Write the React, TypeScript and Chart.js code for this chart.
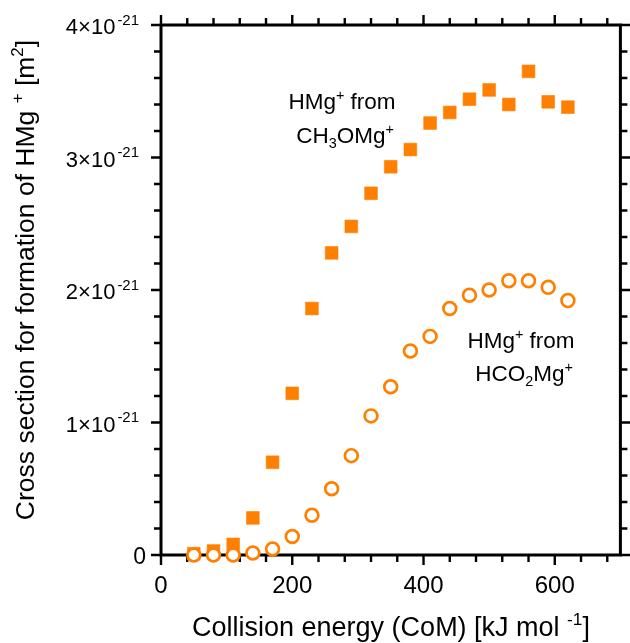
import React, { useEffect, useRef } from "react";
import { Chart, registerables } from "chart.js";

Chart.register(...registerables);

// Collision energy (CoM) [kJ mol-1]
const energies = [50, 80, 110, 140, 170, 200, 230, 260, 290, 320, 350, 380, 410, 440, 470, 500, 530, 560, 590, 620];
// Cross section [m^2] for HMg+ from CH3OMg+ (filled squares)
const fromCH3OMg = [
  0.01e-21, 0.03e-21, 0.08e-21, 0.28e-21, 0.7e-21, 1.22e-21, 1.86e-21, 2.28e-21, 2.48e-21, 2.73e-21,
  2.93e-21, 3.06e-21, 3.26e-21, 3.34e-21, 3.44e-21, 3.51e-21, 3.4e-21, 3.65e-21, 3.42e-21, 3.38e-21,
];
// Cross section [m^2] for HMg+ from HCO2Mg+ (open circles)
const fromHCO2Mg = [
  0, 0, 0, 0.015e-21, 0.045e-21, 0.14e-21, 0.3e-21, 0.5e-21, 0.75e-21, 1.05e-21,
  1.27e-21, 1.54e-21, 1.65e-21, 1.86e-21, 1.96e-21, 2.0e-21, 2.07e-21, 2.07e-21, 2.02e-21, 1.92e-21,
];

const xMin = 0;
const xMax = 700;
const xMajorTicks = [0, 200, 400, 600];
const xTickLabels = ["0", "200", "400", "600"];
const xMinorStep = 40;

const yMin = 0;
const yMax = 4e-21;
const yMajorTicks = [0, 1e-21, 2e-21, 3e-21, 4e-21];
const yTickMantissas = ["0", "1×10", "2×10", "3×10", "4×10"];
const yTickExponent = "-21";
const yMinorCount = 20; // minor ticks every 0.2e-21

const ORANGE = "#FF8000";
const FONT = '"Liberation Sans", Arial, sans-serif';

type Seg = { t: string; k: "n" | "sup" | "sub"; gap?: number };

function drawRich(
  ctx: CanvasRenderingContext2D,
  segs: Seg[],
  x: number,
  y: number,
  size: number,
  align: "left" | "center" | "right",
  subScale = 0.64
) {
  const parts = segs.map((s) => {
    const fs = s.k === "n" ? size : size * subScale;
    ctx.font = `${fs}px ${FONT}`;
    return { ...s, fs, w: ctx.measureText(s.t).width + (s.gap || 0) };
  });
  const total = parts.reduce((a, p) => a + p.w, 0);
  let cx = align === "center" ? x - total / 2 : align === "right" ? x - total : x;
  ctx.textAlign = "left";
  ctx.textBaseline = "alphabetic";
  for (const p of parts) {
    ctx.font = `${p.fs}px ${FONT}`;
    const dy = p.k === "sup" ? -size * 0.42 : p.k === "sub" ? size * 0.24 : 0;
    ctx.fillText(p.t, cx + (p.gap || 0), y + dy);
    cx += p.w;
  }
}

const framePlugin = {
  id: "frameAxes",
  beforeDatasetsDraw(chart: any) {
    const { ctx, chartArea } = chart;
    const xs = chart.scales.x;
    const ys = chart.scales.y;
    const { left, right, top, bottom } = chartArea;
    ctx.save();
    ctx.strokeStyle = "#000";
    ctx.lineCap = "butt";
    // ticks
    ctx.lineWidth = 2.4;
    const MAJ = 10;
    const MIN = 7;
    for (let v = xMin; v <= xMax; v += xMinorStep) {
      const px = xs.getPixelForValue(v);
      const len = xMajorTicks.includes(v) ? MAJ : MIN;
      ctx.beginPath();
      ctx.moveTo(px, bottom);
      ctx.lineTo(px, bottom + len);
      ctx.moveTo(px, top);
      ctx.lineTo(px, top - len);
      ctx.stroke();
    }
    for (let i = 0; i <= yMinorCount; i++) {
      const v = (i / yMinorCount) * yMax;
      const py = ys.getPixelForValue(v);
      const len = i % 5 === 0 ? MAJ : MIN;
      ctx.beginPath();
      ctx.moveTo(left, py);
      ctx.lineTo(left - len, py);
      ctx.moveTo(right, py);
      ctx.lineTo(right + len, py);
      ctx.stroke();
    }
    // frame
    ctx.lineWidth = 3;
    ctx.beginPath();
    ctx.rect(left, top, right - left, bottom - top);
    ctx.stroke();
    ctx.restore();
  },
  afterDraw(chart: any) {
    const { ctx } = chart;
    const xs = chart.scales.x;
    const ys = chart.scales.y;
    ctx.save();
    ctx.fillStyle = "#000";
    // x tick labels
    xMajorTicks.forEach((v, i) => {
      drawRich(ctx, [{ t: xTickLabels[i], k: "n" }], xs.getPixelForValue(v), 593, 24, "center");
    });
    // y tick labels
    yMajorTicks.forEach((v, i) => {
      const py = ys.getPixelForValue(v);
      if (i === 0) {
        drawRich(ctx, [{ t: yTickMantissas[i], k: "n" }], 146, py + 8.5, 23, "right");
      } else {
        drawRich(
          ctx,
          [
            { t: yTickMantissas[i], k: "n" },
            { t: yTickExponent, k: "sup", gap: 2 },
          ],
          139,
          py + 9,
          22,
          "right",
          0.68
        );
      }
    });
    // x title
    drawRich(
      ctx,
      [
        { t: "Collision energy (CoM) [kJ mol ", k: "n" },
        { t: "-1", k: "sup" },
        { t: "]", k: "n" },
      ],
      391,
      636,
      27,
      "center"
    );
    // y title
    ctx.save();
    ctx.translate(34, 280);
    ctx.rotate(-Math.PI / 2);
    drawRich(
      ctx,
      [
        { t: "Cross section for formation of HMg ", k: "n" },
        { t: "+", k: "sup" },
        { t: " [m", k: "n" },
        { t: "2", k: "sup" },
        { t: "]", k: "n" },
      ],
      0,
      0,
      26.5,
      "center"
    );
    ctx.restore();
    // annotations
    drawRich(ctx, [{ t: "HMg", k: "n" }, { t: "+", k: "sup" }, { t: " from", k: "n" }], 342, 109, 22.5, "center");
    drawRich(
      ctx,
      [{ t: "CH", k: "n" }, { t: "3", k: "sub" }, { t: "OMg", k: "n" }, { t: "+", k: "sup" }],
      345,
      143,
      22.5,
      "center"
    );
    drawRich(ctx, [{ t: "HMg", k: "n" }, { t: "+", k: "sup" }, { t: " from", k: "n" }], 521, 348, 22.5, "center");
    drawRich(
      ctx,
      [{ t: "HCO", k: "n" }, { t: "2", k: "sub" }, { t: "Mg", k: "n" }, { t: "+", k: "sup" }],
      524,
      381,
      22.5,
      "center"
    );
    ctx.restore();
  },
};

export default function App() {
  const ref = useRef<HTMLCanvasElement | null>(null);
  useEffect(() => {
    if (!ref.current) return;
    const chart = new Chart(ref.current, {
      type: "scatter",
      data: {
        datasets: [
          {
            label: "HMg+ from HCO2Mg+",
            data: energies.map((x, i) => ({ x, y: fromHCO2Mg[i] })),
            pointStyle: "circle",
            pointRadius: 6.4,
            pointBorderWidth: 2.7,
            borderColor: ORANGE,
            backgroundColor: "#ffffff",
            clip: false,
          } as any,
          {
            label: "HMg+ from CH3OMg+",
            data: energies.map((x, i) => ({ x, y: fromCH3OMg[i] })),
            pointStyle: "rect",
            pointRadius: 9,
            pointBorderWidth: 0.6,
            borderColor: ORANGE,
            backgroundColor: ORANGE,
            clip: false,
          } as any,
        ],
      },
      options: {
        animation: false,
        responsive: false,
        events: [],
        layout: { padding: { left: 161, right: 9, top: 25, bottom: 88 } },
        plugins: { legend: { display: false }, tooltip: { enabled: false } },
        scales: {
          x: { type: "linear", min: xMin, max: xMax, display: false },
          y: { type: "linear", min: yMin, max: yMax, display: false },
        },
      },
      plugins: [framePlugin],
    });
    return () => chart.destroy();
  }, []);
  return (
    <div style={{ position: "fixed", left: 0, top: 0, width: 630, height: 643, background: "#fff" }}>
      <canvas ref={ref} width={630} height={643} style={{ width: 630, height: 643, display: "block" }} />
    </div>
  );
}
